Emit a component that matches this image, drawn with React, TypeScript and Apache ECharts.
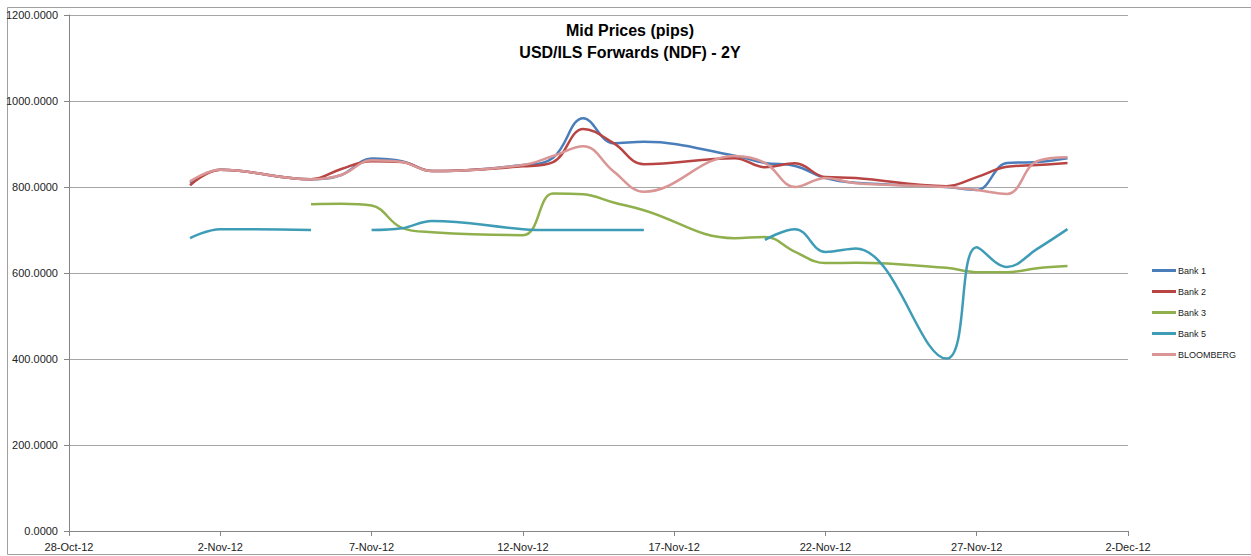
import React, { useEffect, useRef } from "react";
import * as echarts from "echarts";

const dates = [
  "2012-11-01", "2012-11-02", "2012-11-05", "2012-11-06", "2012-11-07", "2012-11-08", "2012-11-09",
  "2012-11-12", "2012-11-13", "2012-11-14", "2012-11-15", "2012-11-16",
  "2012-11-19", "2012-11-20", "2012-11-21", "2012-11-22", "2012-11-23",
  "2012-11-26", "2012-11-27", "2012-11-28", "2012-11-29", "2012-11-30",
];

const bank1 = [810, 840, 818, 828, 866, 860, 837, 851, 868, 960, 902, 905, 873, 856, 849, 821, 810, 800, 793, 856, 858, 867];
const bank2 = [804, 840, 818, 842, 860, 858, 837, 848, 858, 935, 902, 853, 867, 846, 855, 823, 821, 802, 823, 847, 851, 856];
const bank3 = [null, null, 760, 761, 757, 705, 695, 688, 785, 783, 764, 746, 681, 684, 649, 623, 624, 612, 602, 602, 611, 616];
const bank5 = [681, 702, 700, null, 700, 704, 721, 702, 700, 700, 700, 700, null, 677, 702, 649, 657, 401, 660, 614, 656, 702];
const bloomberg = [813, 840, 818, 828, 862, 858, 837, 851, 872, 895, 836, 789, 872, 856, 800, 821, 809, 800, 793, 784, 860, 869];

const seriesNames = ["Bank 1", "Bank 2", "Bank 3", "Bank 5", "BLOOMBERG"];
const seriesColors = ["#4a7ebb", "#b84543", "#8fb04c", "#3f9cb6", "#d99694"];
const seriesValues = [bank1, bank2, bank3, bank5, bloomberg];

const yTicks = [0, 200, 400, 600, 800, 1000, 1200];
const originDate = "2012-10-28";
const monthNames = ["Jan", "Feb", "Mar", "Apr", "May", "Jun", "Jul", "Aug", "Sep", "Oct", "Nov", "Dec"];

const DAY = 86400000;
const toUTC = (s: string) => {
  const [y, m, d] = s.split("-").map(Number);
  return Date.UTC(y, m - 1, d);
};
const dayOffset = (s: string) => Math.round((toUTC(s) - toUTC(originDate)) / DAY);
const fmtDay = (v: number) => {
  const dt = new Date(toUTC(originDate) + v * DAY);
  return `${dt.getUTCDate()}-${monthNames[dt.getUTCMonth()]}-${String(dt.getUTCFullYear()).slice(2)}`;
};

const FONT = "Liberation Sans";

export default function App() {
  const ref = useRef<HTMLDivElement>(null);
  useEffect(() => {
    if (!ref.current) return;
    const chart = echarts.init(ref.current, null, { renderer: "svg" });
    const xs = dates.map(dayOffset);
    chart.setOption({
      animation: false,
      backgroundColor: "#ffffff",
      textStyle: { fontFamily: FONT },
      graphic: [
        {
          type: "rect",
          shape: { x: 7.5, y: 7.5, width: 1260, height: 547 },
          style: { fill: "none", stroke: "#a0a0a0", lineWidth: 1 },
          silent: true,
        },
        {
          type: "text",
          x: 630,
          y: 19,
          style: {
            text: "Mid Prices (pips)\nUSD/ILS Forwards (NDF) - 2Y",
            fontFamily: FONT,
            fontWeight: "bold",
            fontSize: 16,
            lineHeight: 22,
            textAlign: "center",
            fill: "#000000",
          },
        },
      ],
      legend: {
        orient: "vertical",
        left: 1147,
        top: 260,
        icon: "rect",
        itemWidth: 24,
        itemHeight: 3,
        itemGap: 10,
        data: seriesNames,
        textStyle: { fontFamily: FONT, fontSize: 9, color: "#222222", padding: [0, 0, 0, -3], lineHeight: 11 },
      },
      grid: { left: 69, right: 123, top: 15, bottom: 25, containLabel: false },
      xAxis: {
        type: "value",
        min: 0,
        max: 35,
        interval: 5,
        axisLine: { show: true, lineStyle: { color: "#868686" } },
        axisTick: { show: true, length: 5, lineStyle: { color: "#868686" } },
        splitLine: { show: false },
        axisLabel: {
          formatter: (v: number) => fmtDay(v),
          fontFamily: FONT,
          fontSize: 11,
          color: "#222222",
          margin: 10,
        },
      },
      yAxis: {
        type: "value",
        min: yTicks[0],
        max: yTicks[yTicks.length - 1],
        interval: 200,
        axisLine: { show: true, lineStyle: { color: "#868686" } },
        axisTick: { show: true, length: 5, lineStyle: { color: "#868686" } },
        splitLine: { show: true, lineStyle: { color: "#a6a6a6", width: 1 } },
        axisLabel: {
          formatter: (v: number) => v.toFixed(4),
          fontFamily: FONT,
          fontSize: 11,
          color: "#222222",
          margin: 11,
        },
      },
      series: seriesNames.map((name, i) => ({
        name,
        type: "line",
        smooth: 0.4,
        symbol: "none",
        connectNulls: false,
        color: seriesColors[i],
        itemStyle: { color: seriesColors[i] },
        lineStyle: { width: 2.5, color: seriesColors[i] },
        data: xs.map((x, j) => [x, seriesValues[i][j]]),
      })),
    });
    return () => chart.dispose();
  }, []);
  return (
    <div
      ref={ref}
      style={{ position: "absolute", left: 0, top: 0, width: 1251, height: 556 }}
    />
  );
}
